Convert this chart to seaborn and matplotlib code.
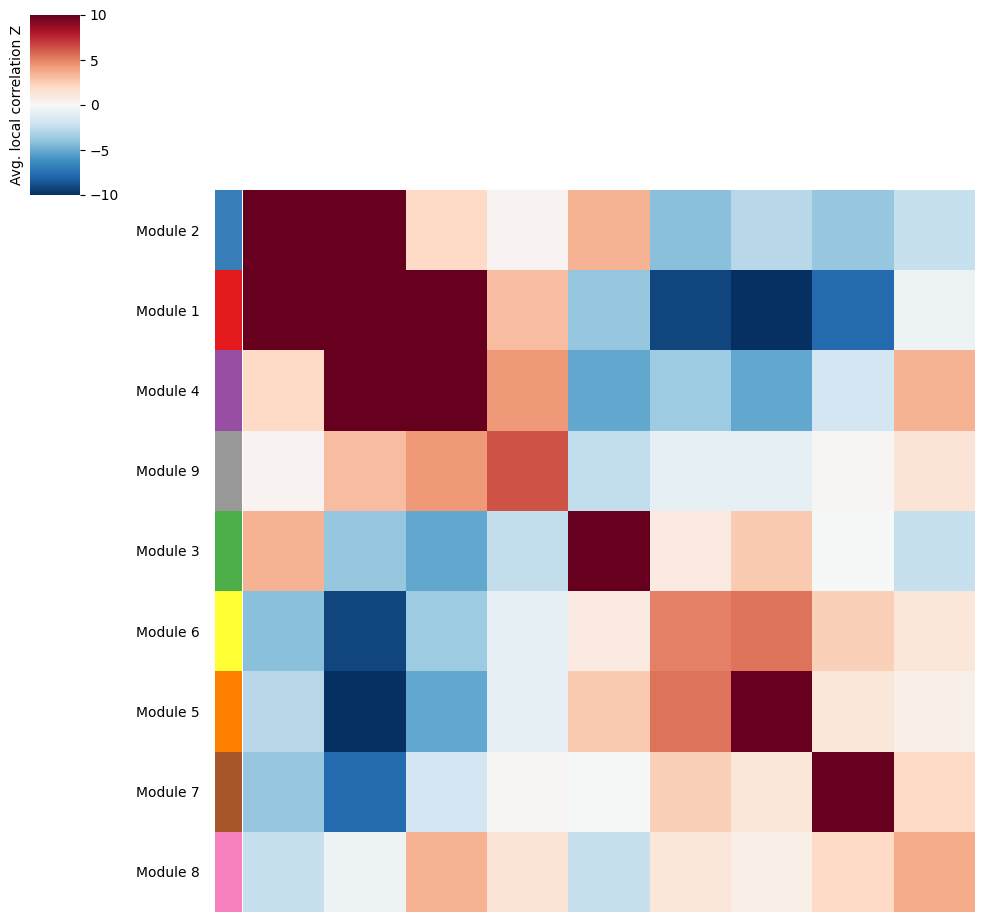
import matplotlib
matplotlib.use('Agg')
import matplotlib.pyplot as plt
import seaborn as sns
import pandas as pd
import numpy as np

# module order as shown (rows and columns share the same order)
modules = ['Module 2', 'Module 1', 'Module 4', 'Module 9', 'Module 3',
           'Module 6', 'Module 5', 'Module 7', 'Module 8']

# Set1 colors per module id
module_colors = {
    'Module 1': '#e41a1c', 'Module 2': '#377eb8', 'Module 3': '#4daf4a',
    'Module 4': '#984ea3', 'Module 5': '#ff7f00', 'Module 6': '#ffff33',
    'Module 7': '#a65628', 'Module 8': '#f781bf', 'Module 9': '#999999',
}

# average local correlation Z (clipped to +-10)
z_m2 = [10, 10, 2.0, 0.3, 3.5, -4.2, -2.8, -3.9, -2.3]
z_m1 = [10, 10, 10, 3.1, -3.9, -9.2, -10, -7.8, -0.5]
z_m4 = [2.0, 10, 10, 4.3, -5.2, -3.6, -5.2, -1.8, 3.5]
z_m9 = [0.3, 3.1, 4.3, 6.4, -2.5, -0.9, -0.9, 0.1, 1.4]
z_m3 = [3.5, -3.9, -5.2, -2.5, 10, 0.9, 2.6, -0.05, -2.3]
z_m6 = [-4.2, -9.2, -3.6, -0.9, 0.9, 5.0, 5.4, 2.4, 1.2]
z_m5 = [-2.8, -10, -5.2, -0.9, 2.6, 5.4, 10, 1.2, 0.6]
z_m7 = [-3.9, -7.8, -1.8, 0.1, -0.05, 2.4, 1.2, 10, 2.0]
z_m8 = [-2.3, -0.5, 3.5, 1.4, -2.3, 1.2, 0.6, 2.0, 3.7]

df = pd.DataFrame([z_m2, z_m1, z_m4, z_m9, z_m3, z_m6, z_m5, z_m7, z_m8],
                  index=modules, columns=modules)
row_colors = [module_colors[m] for m in modules]

W, H = 984, 923
cm = sns.clustermap(df, row_cluster=False, col_cluster=False,
                    vmin=-10, vmax=10, cmap='RdBu_r',
                    xticklabels=False, yticklabels=False,
                    row_colors=row_colors, figsize=(W / 100, H / 100))

def px_box(x0, y0, x1, y1):
    return [x0 / W, 1 - y1 / H, (x1 - x0) / W, (y1 - y0) / H]

cm.ax_heatmap.set_position(px_box(243, 190, 975, 912))
cm.ax_row_colors.set_position(px_box(215, 190, 242, 912))
cm.ax_cbar.set_position(px_box(30, 15, 80, 195))
cm.ax_row_dendrogram.remove()
cm.ax_col_dendrogram.remove()

cm.ax_heatmap.set_xlabel('')
cm.ax_heatmap.set_ylabel('')

# module names sit left of the color strip
cm.ax_row_colors.set_yticks(np.arange(len(modules)) + 0.5)
cm.ax_row_colors.set_yticklabels(modules, rotation=0)
cm.ax_row_colors.tick_params(axis='y', length=0, pad=11, labelsize=10)

cm.ax_cbar.set_ylabel('Avg. local correlation Z')
cm.ax_cbar.yaxis.set_label_position('left')
cm.ax_cbar.set_yticks([-10, -5, 0, 5, 10])

plt.savefig('out.png', dpi=100)
plt.close()
